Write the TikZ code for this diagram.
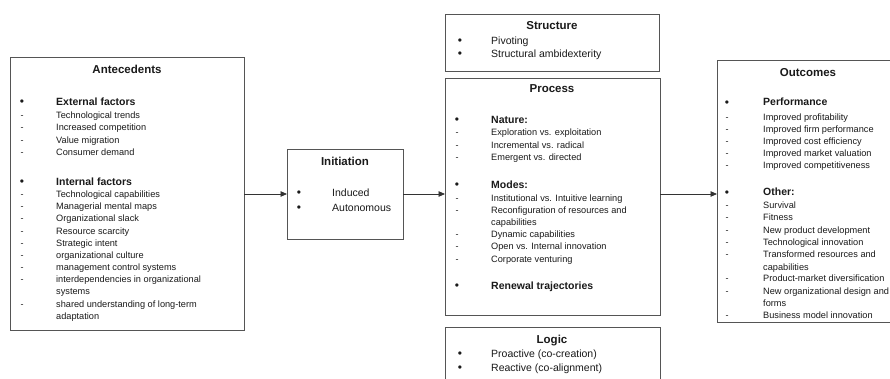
\documentclass[tikz,border=0pt]{standalone}
\usepackage{fontspec}
\setmainfont{Liberation Sans}
\usetikzlibrary{arrows.meta}
\definecolor{boxgray}{HTML}{555555}
\definecolor{linegray}{HTML}{333333}
\definecolor{txt}{HTML}{1A1A1A}
\begin{document}
\begin{tikzpicture}[x=1pt,y=-1pt,
  box/.style={draw=boxgray, line width=0.8pt, anchor=north west, inner sep=0, outer sep=0},
  ttl/.style={font=\bfseries\fontsize{11.5}{13}\selectfont, inner sep=0, anchor=mid, text=txt},
  sub/.style={font=\bfseries\fontsize{10.5}{12}\selectfont, inner sep=0, anchor=mid west, text=txt},
  itm/.style={font=\fontsize{9.2}{11}\selectfont, inner sep=0, anchor=mid west, text=txt},
  big/.style={font=\fontsize{10.5}{12}\selectfont, inner sep=0, anchor=mid west, text=txt},
  mk/.style={inner sep=0, anchor=mid, font=\fontsize{9}{11}\selectfont, text=txt},
  bl/.style={inner sep=0, anchor=center, font=\fontsize{12}{12}\selectfont, text=txt},
  arr/.style={draw=linegray, line width=0.8pt, -{Triangle[length=6.5pt,width=5.5pt]}}]
\useasboundingbox (0,0) rectangle (890,379);
\fill[white] (0,0) rectangle (890,379);

% boxes
\node[box, minimum width=234, minimum height=273] (ante) at (10,57) {};
\node[box, minimum width=116, minimum height=90] (init) at (287,149) {};
\node[box, minimum width=214, minimum height=57] (struc) at (445,14) {};
\node[box, minimum width=215, minimum height=237] (proc) at (445,78) {};
\node[box, minimum width=215, minimum height=70] (logic) at (445,327) {};
\node[box, minimum width=185, minimum height=262] (outc) at (717,60) {};

% titles
\node[ttl] (t-ante) at (127,71) {Antecedents};
\node[ttl] (t-init) at (345,163) {Initiation};
\node[ttl] (t-struc) at (552,27) {Structure};
\node[ttl] (t-proc) at (552,90) {Process};
\node[ttl] (t-logic) at (552,341) {Logic};
\node[ttl] (t-outc) at (808,74) {Outcomes};

% Antecedents
\node[bl] (a-b1) at (22,103) {\textbullet};
\node[sub] (a-s1) at (56,103) {External factors};
\foreach \y/\t [count=\i] in {116/Technological trends,128.3/Increased competition,140.4/Value migration,152.5/Consumer demand}{
  \node[mk] (a-d\i) at (22,\y) {-};
  \node[itm] (a-i\i) at (56,\y) {\t};
}
\node[bl] (a-b2) at (22,182.5) {\textbullet};
\node[sub] (a-s2) at (56,182.5) {Internal factors};
\foreach \y/\t [count=\i] in {195/Technological capabilities,207/Managerial mental maps,219.2/Organizational slack,231.5/Resource scarcity,243.5/Strategic intent,255.7/organizational culture,268/management control systems,280.2/interdependencies in organizational,305/shared understanding of long-term}{
  \node[mk] (a-e\i) at (22,\y) {-};
  \node[itm] (a-j\i) at (56,\y) {\t};
}
\node[itm] (a-c1) at (56,292.3) {systems};
\node[itm] (a-c2) at (56,317.3) {adaptation};

% Initiation
\node[bl] (n-b1) at (299,194) {\textbullet};
\node[big] (n-i1) at (332,194) {Induced};
\node[bl] (n-b2) at (299,209) {\textbullet};
\node[big] (n-i2) at (332,209) {Autonomous};

% Structure
\node[bl] (s-b1) at (460,42) {\textbullet};
\node[big] (s-i1) at (491,42) {Pivoting};
\node[bl] (s-b2) at (460,55) {\textbullet};
\node[big] (s-i2) at (491,55) {Structural ambidexterity};

% Process
\node[bl] (p-b1) at (457,121) {\textbullet};
\node[sub] (p-s1) at (491,121) {Nature:};
\foreach \y/\t [count=\i] in {133.3/Exploration vs. exploitation,146/Incremental vs. radical,158.3/Emergent vs. directed}{
  \node[mk] (p-d\i) at (457,\y) {-};
  \node[itm] (p-i\i) at (491,\y) {\t};
}
\node[bl] (p-b2) at (457,185.7) {\textbullet};
\node[sub] (p-s2) at (491,185.7) {Modes:};
\foreach \y/\t [count=\i] in {199/Institutional vs. Intuitive learning,210.7/Reconfiguration of resources and,235.3/Dynamic capabilities,247.3/Open vs. Internal innovation,260/Corporate venturing}{
  \node[mk] (p-e\i) at (457,\y) {-};
  \node[itm] (p-j\i) at (491,\y) {\t};
}
\node[itm] (p-c1) at (491,222.7) {capabilities};
\node[bl] (p-b3) at (457,286.7) {\textbullet};
\node[sub] (p-s3) at (491,286.7) {Renewal trajectories};

% Logic
\node[bl] (l-b1) at (460,355) {\textbullet};
\node[big] (l-i1) at (491,355) {Proactive (co-creation)};
\node[bl] (l-b2) at (460,369) {\textbullet};
\node[big] (l-i2) at (491,369) {Reactive (co-alignment)};

% Outcomes
\node[bl] (o-b1) at (727,103.3) {\textbullet};
\node[sub] (o-s1) at (763,103.3) {Performance};
\foreach \y/\t [count=\i] in {117.7/Improved profitability,129.6/Improved firm performance,141.7/Improved cost efficiency,154/Improved market valuation,166/Improved competitiveness}{
  \node[mk] (o-d\i) at (727,\y) {-};
  \node[itm] (o-i\i) at (763,\y) {\t};
}
\node[bl] (o-b2) at (727,193.3) {\textbullet};
\node[sub] (o-s2) at (763,193.3) {Other:};
\foreach \y/\t [count=\i] in {205.5/Survival,218.3/Fitness,230.7/New product development,242.7/Technological innovation,255/Transformed resources and,279.3/Product-market diversification,291.7/New organizational design and,316/Business model innovation}{
  \node[mk] (o-e\i) at (727,\y) {-};
  \node[itm] (o-j\i) at (763,\y) {\t};
}
\node[itm] (o-c1) at (763,267.7) {capabilities};
\node[itm] (o-c2) at (763,304.3) {forms};

% connectors
\coordinate (lvl) at (0,194);
\draw[arr] (ante.east |- lvl) -- (init.west |- lvl);
\draw[arr] (init.east |- lvl) -- (proc.west |- lvl);
\draw[arr] (proc.east |- lvl) -- (outc.west |- lvl);
\end{tikzpicture}
\end{document}
